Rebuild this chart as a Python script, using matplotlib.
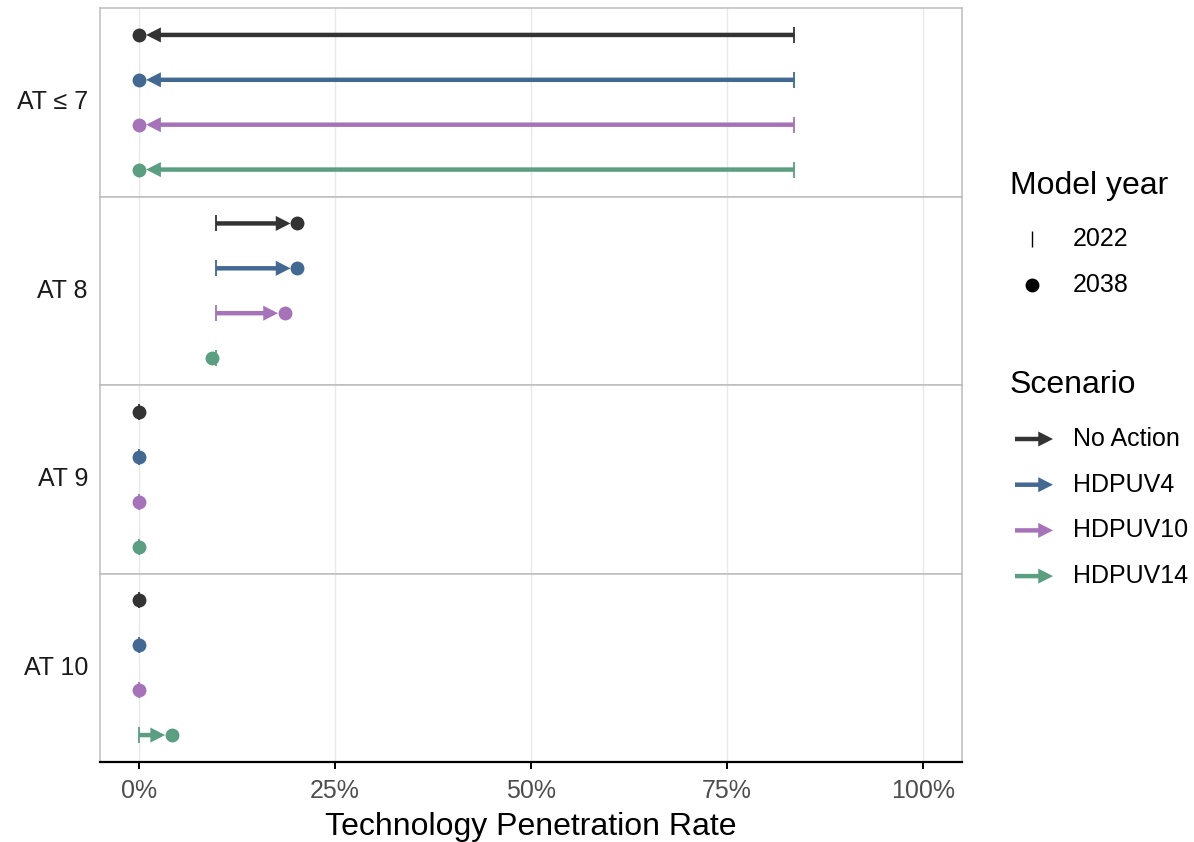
import matplotlib
matplotlib.use("Agg")
import matplotlib.pyplot as plt
from matplotlib.patches import FancyArrowPatch
from matplotlib.lines import Line2D

plt.rcParams['font.family'] = ['Liberation Sans', 'DejaVu Sans']

# data (percent)
categories = ['AT \u2264 7', 'AT 8', 'AT 9', 'AT 10']
scenarios = ['No Action', 'HDPUV4', 'HDPUV10', 'HDPUV14']
colors = ['#333333', '#436891', '#a673b9', '#5b9e82']
rate_2022 = [
    [83.6, 83.6, 83.6, 83.6],
    [9.8, 9.8, 9.8, 9.8],
    [0.0, 0.0, 0.0, 0.0],
    [0.0, 0.0, 0.0, 0.0],
]
rate_2038 = [
    [0.0, 0.0, 0.0, 0.0],
    [20.2, 20.2, 18.6, 9.3],
    [0.0, 0.0, 0.0, 0.0],
    [0.0, 0.0, 0.0, 4.2],
]
x_ticks = [0, 25, 50, 75, 100]
x_ticklabels = ['0%', '25%', '50%', '75%', '100%']

W, H = 1194, 842
fig = plt.figure(figsize=(W / 100, H / 100), dpi=100)

left, right = 100 / W, 962 / W
top, bottom = 1 - 8 / H, 1 - 762 / H
panel_h = (top - bottom) / len(categories)
border = '#BDBDBD'
arrow_style = '-|>,head_length=0.55,head_width=0.28'

axes = []
for i, cat in enumerate(categories):
    ax = fig.add_axes([left, top - (i + 1) * panel_h, right - left, panel_h])
    axes.append(ax)
    ax.set_xlim(-5, 105)
    ax.set_ylim(len(scenarios) - 0.4, -0.6)
    ax.set_xticks(x_ticks)
    ax.set_yticks([])
    for t in x_ticks:
        ax.axvline(t, color='#E8E8E8', lw=1.0, zorder=0)
    for s in ax.spines.values():
        s.set_color(border)
        s.set_linewidth(1.1)
    ax.text(-0.014, 0.5, cat, transform=ax.transAxes, ha='right', va='center',
            fontsize=18, color='#1A1A1A')

    for j, sc in enumerate(scenarios):
        x0, x1 = rate_2022[i][j], rate_2038[i][j]
        c = colors[j]
        if abs(x1 - x0) > 1.5:
            arr = FancyArrowPatch((x0, j), (x1, j), arrowstyle=arrow_style,
                                  mutation_scale=10, color=c, lw=3.2,
                                  shrinkA=0, shrinkB=5, zorder=2,
                                  capstyle='butt', joinstyle='miter')
            ax.add_patch(arr)
        ax.plot([x0], [j], marker='|', ms=12, mew=1.3, color=c, zorder=3)
        ax.plot([x1], [j], marker='o', ms=10, color=c, mec='none', zorder=4)

    if i < len(categories) - 1:
        ax.tick_params(axis='x', length=0, labelbottom=False)
    else:
        ax.spines['bottom'].set_color('black')
        ax.spines['bottom'].set_linewidth(1.6)
        ax.tick_params(axis='x', length=5, width=1.4, color='black',
                       labelsize=18, labelcolor='#4D4D4D', pad=7)
        ax.set_xticklabels(x_ticklabels)
        ax.set_xlabel('Technology Penetration Rate', fontsize=23, labelpad=7)

# legend drawn in pixel space on an overlay axes
lax = fig.add_axes([0, 0, 1, 1])
lax.set_xlim(0, W)
lax.set_ylim(H, 0)
lax.axis('off')

lax.text(1010, 186, 'Model year', fontsize=23, va='center', ha='left')
lax.add_line(Line2D([1032], [239], marker='|', ms=11, mew=1.0, color='black'))
lax.text(1073, 239, '2022', fontsize=18, va='center', ha='left')
lax.add_line(Line2D([1032], [285], marker='o', ms=10, color='black', mec='none'))
lax.text(1073, 285, '2038', fontsize=18, va='center', ha='left')

lax.text(1010, 385, 'Scenario', fontsize=23, va='center', ha='left')
for k, sc in enumerate(scenarios):
    yk = 439 + k * 45.7
    lax.add_patch(FancyArrowPatch((1015, yk), (1053, yk), arrowstyle=arrow_style,
                                  mutation_scale=10, color=colors[k], lw=3.2,
                                  shrinkA=0, shrinkB=0, capstyle='butt',
                                  joinstyle='miter'))
    lax.text(1073, yk, sc, fontsize=18, va='center', ha='left')

fig.savefig('out.png', dpi=100)
